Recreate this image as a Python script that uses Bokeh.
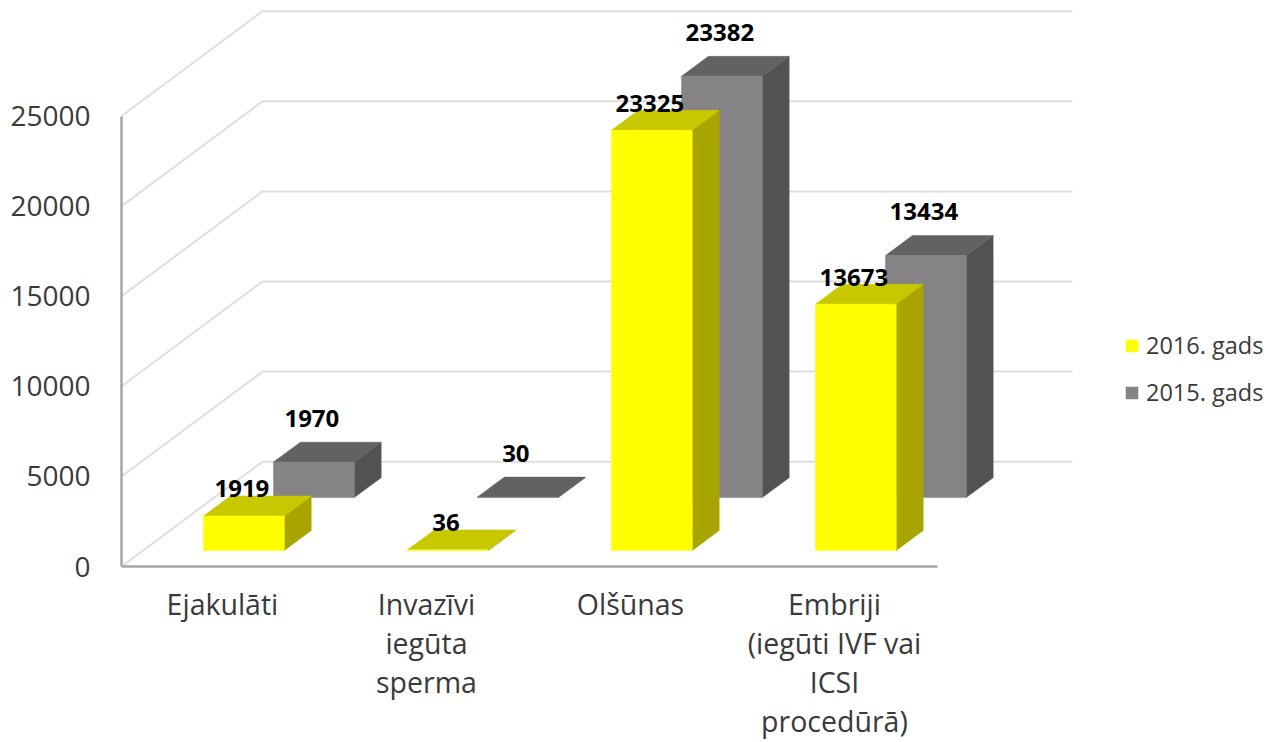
from bokeh.plotting import figure
from bokeh.embed import file_html
from bokeh.resources import INLINE
from bokeh.models import ColumnDataSource, FixedTicker, Legend, LegendItem, Range1d
from bokeh.core.properties import value

categories = ["Ejakulāti", "Invazīvi\niegūta\nsperma", "Olšūnas", "Embriji\n(iegūti IVF vai\nICSI\nprocedūrā)"]
series_2016 = [1919, 36, 23325, 13673]
series_2015 = [1970, 30, 23382, 13434]
y_ticks = [0, 5000, 10000, 15000, 20000, 25000]
legend_names = ["2016. gads", "2015. gads"]

FONT = "Open Sans"
INK = "#3A3A3C"

X_START, X_END = -0.495, 5.167
Y_END = 31413
BAR_W = 0.396
DX_TOP, DY_TOP = 0.132, 1108
WALL_DX, WALL_DY = 0.691, 5817
WALL_END, FLOOR_END = 4.167, 3.505

p = figure(width=1276, height=742, output_backend="svg", toolbar_location=None,
           x_range=Range1d(X_START, X_END), y_range=Range1d(0, Y_END),
           min_border_left=121, min_border_right=0, min_border_top=0, min_border_bottom=175)
p.outline_line_color = None
p.grid.visible = False

# walls
for v in y_ticks:
    p.line([X_START, X_START + WALL_DX, WALL_END], [v, v + WALL_DY, v + WALL_DY],
           line_color="#DEDEDE", line_width=2)


def draw(values, left_off, base, front, top, side, label_dy):
    lefts = [i + left_off for i in range(len(values))]
    rights = [l + BAR_W for l in lefts]
    tops = [base + v for v in values]
    bottoms = [base] * len(values)
    p.patches([[r, r + DX_TOP, r + DX_TOP, r] for r in rights],
              [[b, b + DY_TOP, t + DY_TOP, t] for b, t in zip(bottoms, tops)],
              fill_color=side, line_color=side, line_width=0.5)
    p.patches([[l, r, r + DX_TOP, l + DX_TOP] for l, r in zip(lefts, rights)],
              [[t, t, t + DY_TOP, t + DY_TOP] for t in tops],
              fill_color=top, line_color=top, line_width=0.5)
    q = p.quad(left=lefts, right=rights, bottom=bottoms, top=tops,
               fill_color=front, line_color=front, line_width=0.5)
    src = ColumnDataSource(dict(x=[(l + r) / 2 for l, r in zip(lefts, rights)], y=tops,
                                t=[str(v) for v in values]))
    return q, src, label_dy


q15, s15, d15 = draw(series_2015, 0.25, 3823, "#858385", "#636164", "#525252", 44)
q16, s16, d16 = draw(series_2016, -0.093, 887, "#FFFF00", "#C8C800", "#A8A400", 27)

for s, d in ((s15, d15), (s16, d16)):
    p.text("x", "y", text="t", source=s, x_offset=-2, y_offset=-d,
           text_align="center", text_baseline="middle",
           text_font=value(FONT), text_font_style="bold", text_font_size="24px",
           text_color="#000000")

# axes
xa = p.xaxis[0]
xa.ticker = FixedTicker(ticks=list(range(len(categories))))
xa.major_label_overrides = {i: c for i, c in enumerate(categories)}
xa.bounds = (X_START, FLOOR_END)
xa.axis_line_color = "#A6A6A6"
xa.axis_line_width = 2.5
xa.major_tick_line_color = None
xa.minor_tick_line_color = None
xa.major_label_standoff = 12
xa.major_label_text_font = FONT
xa.major_label_text_font_size = "28.5px"
xa.major_label_text_color = INK
xa.major_label_text_line_height = 1.03

ya = p.yaxis[0]
ya.ticker = FixedTicker(ticks=y_ticks)
ya.bounds = (0, 25000)
ya.axis_line_color = "#A6A6A6"
ya.axis_line_width = 2.5
ya.major_tick_line_color = None
ya.minor_tick_line_color = None
ya.major_label_standoff = 25
ya.major_label_text_font = FONT
ya.major_label_text_font_size = "28px"
ya.major_label_text_color = INK

legend = Legend(items=[LegendItem(label=legend_names[0], renderers=[q16]),
                       LegendItem(label=legend_names[1], renderers=[q15])],
                location=(1003, 158), orientation="vertical",
                background_fill_alpha=0, border_line_color=None,
                margin=0, padding=0, spacing=15,
                glyph_width=15, glyph_height=15, label_standoff=7,
                label_text_font=FONT, label_text_font_size="23.5px", label_text_color=INK)
p.add_layout(legend, "center")

open("out.html", "w").write(file_html(p, INLINE))
